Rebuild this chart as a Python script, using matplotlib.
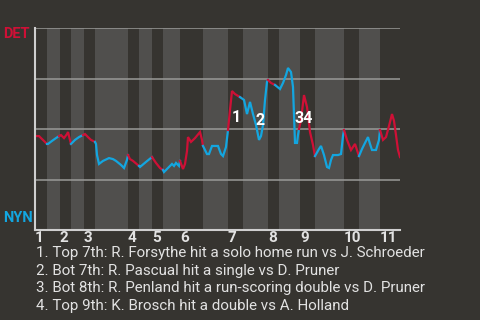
import matplotlib
matplotlib.use("Agg")
import matplotlib.pyplot as plt

plt.rcParams['font.family'] = ['Roboto', 'DejaVu Sans']

# game progress (0 = first pitch, 365 = last play) and DET win probability (%)
top_starts = [0, 25, 49, 93, 117, 145, 193, 233, 265, 309, 345]
bot_starts = [12, 36, 60, 104, 128, 168, 208, 244, 280, 324]
game_end = 365
inning_labels = [str(i) for i in range(1, 12)]

play_x = [1, 4, 12,
          13, 17, 21, 24,
          26, 29, 32, 33, 36,
          40, 44, 48, 50,
          53, 56, 60, 61,
          62, 64, 68, 74, 78, 81, 86, 89, 92, 93,
          95, 98, 104,
          105, 111, 117,
          121, 125, 128,
          129, 133, 137, 139, 141, 144, 145,
          148, 150, 152, 153, 156, 160, 165, 167, 168,
          172, 174, 177, 183, 186, 188, 191, 193,
          195, 197, 200, 205, 209,
          212, 215, 218, 221, 224, 226, 228, 230, 232,
          233, 236, 240, 245,
          248, 251, 253, 256, 258, 259, 260, 262, 263, 264, 266,
          269, 272, 275, 278, 280,
          284, 286, 289, 292, 294, 296, 298, 303, 306, 308, 309,
          312, 316, 320, 324,
          327, 330, 333, 335, 337, 341, 344, 345,
          348, 351, 354, 357, 359, 361, 363, 365]
det_wp = [46.5, 46.5, 42.6,
          42.6, 44.1, 45.5, 46.5,
          47.0, 45.5, 47.5, 48.5, 42.6,
          44.6, 46.0, 47.0, 47.5,
          46.0, 44.6, 43.6, 42.6,
          37.1, 32.7, 34.2, 35.6, 35.1, 34.2, 32.2, 30.7, 34.7, 37.1,
          35.1, 34.2, 31.7,
          31.2, 33.7, 36.1,
          33.2, 30.7, 29.7,
          28.7, 30.7, 32.7, 31.7, 33.2, 31.7, 34.2,
          30.2, 32.7, 39.1, 46.0, 43.6, 45.5, 48.5, 44.6, 41.6,
          37.6, 37.6, 41.6, 41.6, 37.6, 36.6, 41.1, 49.5,
          59.4, 68.8, 67.3, 65.8, 64.4,
          57.4, 63.4, 57.4, 52.0, 44.6, 46.5, 52.0, 64.4, 73.3,
          74.3, 72.8, 71.8, 69.8,
          72.8, 76.7, 80.2, 78.2, 70.8, 56.9, 43.1, 43.1, 47.0, 50.0, 54.5,
          66.8, 60.9, 48.5, 42.1, 36.6,
          40.1, 41.6, 37.1, 31.2, 30.7, 34.7, 37.1, 37.1, 37.6, 46.5, 49.5,
          44.6, 39.6, 42.6, 36.6,
          40.1, 43.1, 46.0, 42.6, 39.6, 39.6, 44.6, 49.5,
          44.6, 46.0, 51.5, 57.4, 54.0, 47.0, 39.6, 36.1]

# key plays
event_marks = ["1", "2", "34"]
event_x = [201, 225, 269]
event_y = [55.9, 54.0, 55.4]
event_text = [
    "1. Top 7th: R. Forsythe hit a solo home run vs J. Schroeder",
    "2. Bot 7th: R. Pascual hit a single vs D. Pruner",
    "3. Bot 8th: R. Penland hit a run-scoring double vs D. Pruner",
    "4. Top 9th: K. Brosch hit a double vs A. Holland",
]

BG = "#363430"
BAND = "#504f4d"
RED = "#cf1036"
BLUE = "#13a6e0"
TXT = "#e2e2e2"

fig = plt.figure(figsize=(4.8, 3.2), dpi=100, facecolor=BG)
ax = fig.add_axes([35 / 480, 90 / 320, 365 / 480, 202 / 320])
ax.set_facecolor(BG)

# bottom half-innings shaded
for i, b in enumerate(bot_starts):
    end = top_starts[i + 1] if i + 1 < len(top_starts) else game_end
    ax.axvspan(b, end, color=BAND, lw=0, zorder=0)

for g in [25, 50, 75, 100]:
    ax.axhline(g, color="#9a9a98", lw=1.1, zorder=1)


def is_top(x):
    half = max(s for s in top_starts + bot_starts if s <= x - 0.01) if x > 0 else 0
    return half in top_starts


# split the line into runs by the half inning being played
runs = []
cur = [(play_x[0], det_wp[0])]
cur_top = is_top(play_x[0])
for i in range(1, len(play_x)):
    t = is_top(play_x[i])
    if t != cur_top:
        runs.append((cur_top, cur))
        cur = [cur[-1]]
        cur_top = t
    cur.append((play_x[i], det_wp[i]))
runs.append((cur_top, cur))

for t, pts in runs:
    xs = [p[0] for p in pts]
    ys = [p[1] for p in pts]
    ax.plot(xs, ys, color=RED if t else BLUE, lw=1.6, zorder=3,
            solid_joinstyle="miter")

for m, x, y in zip(event_marks, event_x, event_y):
    ax.text(x, y, m, color="white", fontsize=11.5, fontweight="bold",
            ha="center", va="center", zorder=4)

ax.set_xlim(0, game_end)
ax.set_ylim(0, 100)
ax.set_yticks([])
ax.set_xticks(top_starts)
ax.set_xticklabels(inning_labels, ha="left", color=TXT, fontsize=11,
                   fontweight="bold")
ax.tick_params(axis="x", length=0, pad=0.5)
for s in ["top", "right"]:
    ax.spines[s].set_visible(False)
for s in ["left", "bottom"]:
    ax.spines[s].set_color("#cfcfcf")
    ax.spines[s].set_linewidth(1.5)
    ax.spines[s].set_zorder(5)

ax.text(-32 / 365, 0.97, "DET", transform=ax.transAxes, color=RED,
        fontsize=10.5, fontweight="bold", ha="left", va="center")
ax.text(-32 / 365, 0.06, "NYN", transform=ax.transAxes, color=BLUE,
        fontsize=10.5, fontweight="bold", ha="left", va="center")

for i, line in enumerate(event_text):
    fig.text(36 / 480, 1 - (253 + i * 17.7) / 320, line, color=TXT,
             fontsize=10.9, ha="left", va="center")

fig.savefig("out.png", dpi=100, facecolor=BG)
